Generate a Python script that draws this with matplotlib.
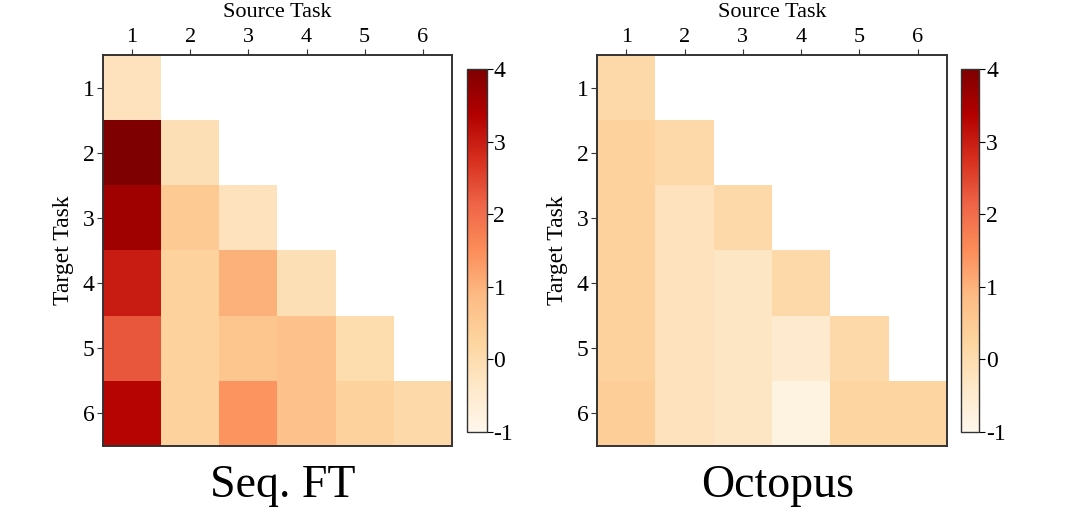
import numpy as np
import matplotlib
matplotlib.use('Agg')
import matplotlib.pyplot as plt

# ------------Данные------------------------------------------------

tasks = ['1', '2', '3', '4', '5', '6']
cbar_ticks = [-1, 0, 1, 2, 3, 4]

nan = np.nan
seq_ft = [
    [-0.2, nan, nan, nan, nan, nan],
    [4.0, -0.1, nan, nan, nan, nan],
    [3.6, 0.5, -0.2, nan, nan, nan],
    [3.0, 0.3, 1.0, -0.1, nan, nan],
    [2.3, 0.3, 0.6, 0.7, 0.0, nan],
    [3.3, 0.3, 1.4, 0.7, 0.3, 0.1],
]
octopus = [
    [0.1, nan, nan, nan, nan, nan],
    [0.3, 0.1, nan, nan, nan, nan],
    [0.3, -0.2, 0.1, nan, nan, nan],
    [0.3, -0.2, -0.3, 0.1, nan, nan],
    [0.3, -0.2, -0.3, -0.5, 0.1, nan],
    [0.4, -0.2, -0.3, -0.8, 0.2, 0.2],
]
titles = ['Seq. FT', 'Octopus']

# ------------Оформление--------------------------------------------

plt.rcParams['font.family'] = ['Liberation Serif', 'DejaVu Serif']
plt.rcParams['axes.unicode_minus'] = False

fig = plt.figure(figsize=(10.8, 5.14), dpi=100)

ax_pos = [[0.0954, 0.1323, 0.323, 0.7607], [0.5528, 0.1323, 0.324, 0.7607]]
cb_pos = [[0.432, 0.1595, 0.0185, 0.706], [0.890, 0.1595, 0.0167, 0.706]]
title_x = [0.262, 0.72]

for k, data in enumerate([seq_ft, octopus]):
    ax = fig.add_axes(ax_pos[k])
    im = ax.imshow(np.array(data), cmap='OrRd', vmin=-1, vmax=4, aspect='auto')
    ax.xaxis.tick_top()
    ax.xaxis.set_label_position('top')
    ax.set_xticks(range(6))
    ax.set_xticklabels(tasks, fontsize=16)
    ax.set_yticks(range(6))
    ax.set_yticklabels(tasks, fontsize=17)
    ax.tick_params(length=4, width=0.8, color='#333333', pad=2)
    ax.set_xlabel('Source Task', fontsize=16)
    ax.xaxis.set_label_coords(0.5, 1.098)
    ax.set_ylabel('Target Task', fontsize=17, labelpad=6)
    for s in ax.spines.values():
        s.set_color('#333333')
        s.set_linewidth(1.4)

    cax = fig.add_axes(cb_pos[k])
    cb = fig.colorbar(im, cax=cax, ticks=cbar_ticks)
    cb.ax.tick_params(labelsize=17, length=4, width=0.8, pad=1)
    cb.outline.set_edgecolor('#333333')
    cb.outline.set_linewidth(1.0)

    fig.text(title_x[k], 0.055, titles[k], fontsize=33, ha='center', va='center')

plt.savefig('out.png', dpi=100)
